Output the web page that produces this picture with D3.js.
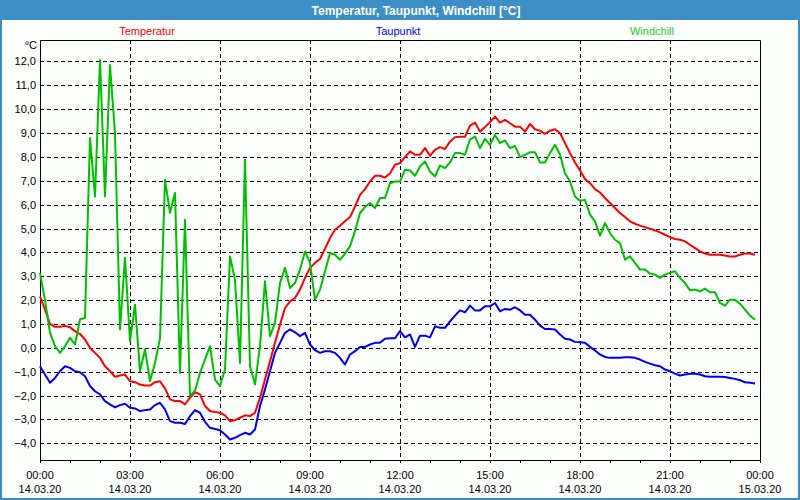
<!DOCTYPE html>
<html>
<head>
<meta charset="utf-8">
<script src="https://cdn.jsdelivr.net/npm/d3@7"></script>
<style>
  html, body { margin: 0; padding: 0; background: #fff; }
  svg { display: block; }
</style>
</head>
<body>
<div id="chart_container"></div>
<script>
// 10-minute readings, 14.03.20 00:00 .. 23:50
const start_time = new Date(2020, 2, 14, 0, 0);
const step_minutes = 10;

const temperatur = [
  2.16, 1.6, 1.0, 0.88, 0.88, 0.92, 0.86, 0.7, 0.58, 0.35,
  0.0, -0.21, -0.42, -0.77, -0.98, -1.21, -1.16, -1.12, -1.4, -1.44,
  -1.54, -1.58, -1.58, -1.44, -1.4, -1.7, -2.16, -2.23, -2.23, -2.37,
  -2.09, -1.86, -1.95, -2.44, -2.65, -2.69, -2.72, -2.83, -3.07, -3.03,
  -2.93, -2.83, -2.86, -2.72, -2.09, -1.33, -0.56, 0.21, 0.97, 1.67,
  1.95, 2.09, 2.44, 2.93, 3.35, 3.56, 3.72, 4.15, 4.6, 4.95,
  5.12, 5.3, 5.48, 5.92, 6.41, 6.65, 6.97, 7.21, 7.21, 7.14,
  7.32, 7.67, 7.74, 7.99, 8.23, 8.09, 8.09, 8.37, 8.05, 8.3,
  8.41, 8.33, 8.64, 8.83, 8.85, 8.85, 9.31, 9.44, 9.06, 9.25,
  9.46, 9.69, 9.44, 9.55, 9.41, 9.27, 9.27, 9.06, 9.38, 9.16,
  9.09, 8.97, 9.1, 9.16, 9.0, 8.58, 8.16, 7.77, 7.43, 7.07,
  6.9, 6.65, 6.51, 6.28, 6.07, 5.86, 5.65, 5.48, 5.3, 5.2,
  5.12, 5.06, 4.99, 4.92, 4.84, 4.74, 4.64, 4.56, 4.53, 4.46,
  4.32, 4.18, 4.04, 3.95, 3.9, 3.9, 3.9, 3.87, 3.83, 3.83,
  3.9, 3.95, 3.95, 3.9
];

const taupunkt = [
  -0.77, -1.12, -1.46, -1.26, -0.98, -0.77, -0.84, -0.98, -1.02, -1.19,
  -1.6, -1.82, -1.95, -2.23, -2.37, -2.49, -2.4, -2.34, -2.51, -2.54,
  -2.65, -2.61, -2.58, -2.4, -2.3, -2.58, -3.07, -3.14, -3.14, -3.19,
  -2.86, -2.61, -2.72, -3.1, -3.35, -3.4, -3.45, -3.63, -3.84, -3.77,
  -3.66, -3.56, -3.63, -3.42, -2.44, -1.74, -0.98, -0.21, 0.21, 0.63,
  0.77, 0.65, 0.49, 0.63, 0.14, -0.1, -0.21, -0.14, -0.14, -0.21,
  -0.42, -0.7, -0.28, -0.14, 0.04, 0.04, 0.14, 0.21, 0.21, 0.38,
  0.4, 0.4, 0.7, 0.44, 0.56, 0.04, 0.51, 0.51, 0.44, 0.9,
  0.84, 0.84, 1.11, 1.35, 1.57, 1.49, 1.77, 1.57, 1.57, 1.74,
  1.74, 1.88, 1.53, 1.63, 1.6, 1.7, 1.57, 1.39, 1.39, 1.18,
  0.93, 0.79, 0.79, 0.77, 0.56, 0.38, 0.35, 0.25, 0.23, 0.21,
  0.04, -0.11, -0.28, -0.38, -0.42, -0.42, -0.42, -0.39, -0.39, -0.42,
  -0.49, -0.59, -0.66, -0.73, -0.77, -0.91, -0.98, -1.08, -1.16, -1.12,
  -1.09, -1.09, -1.12, -1.19, -1.21, -1.21, -1.21, -1.22, -1.26, -1.3,
  -1.36, -1.44, -1.46, -1.49
];

const windchill = [
  3.14, 2.0, 0.64, 0.07, -0.21, 0.07, 0.42, 0.14, 1.2, 1.25,
  8.79, 6.34, 12.06, 6.34, 11.85, 9.0, 0.77, 3.77, 0.28, 1.81,
  -0.98, -0.07, -1.4, -0.63, 0.4, 7.04, 5.66, 6.49, -1.05, 5.37,
  -2.02, -1.8, -1.05, -0.49, 0.07, -1.33, -1.6, -0.91, 3.83, 2.86,
  -0.63, 7.88, -0.77, -1.54, 0.07, 2.79, 0.49, 1.05, 2.72, 3.35,
  2.51, 2.72, 3.28, 4.04, 3.56, 2.02, 2.44, 3.2, 3.97, 3.9,
  3.69, 3.95, 4.25, 4.9, 5.65, 5.9, 6.07, 5.86, 6.28, 6.28,
  6.9, 6.97, 6.97, 7.46, 7.43, 7.21, 7.6, 7.81, 7.39, 7.18,
  7.64, 7.53, 7.77, 8.16, 8.16, 8.09, 8.74, 8.85, 8.37, 8.76,
  8.51, 8.92, 8.58, 8.69, 8.37, 8.46, 7.99, 8.09, 8.2, 8.2,
  7.77, 7.77, 8.16, 8.51, 8.09, 7.32, 6.97, 6.34, 6.16, 6.2,
  5.58, 5.3, 4.7, 5.23, 4.81, 4.53, 4.39, 3.69, 3.83, 3.56,
  3.28, 3.28, 3.11, 3.07, 2.93, 3.07, 3.14, 3.21, 2.93, 2.72,
  2.41, 2.44, 2.37, 2.48, 2.33, 2.33, 1.88, 1.77, 2.02, 2.02,
  1.85, 1.6, 1.35, 1.18
];

const series_names = ['Temperatur', 'Taupunkt', 'Windchill'];
const series_colors = ['#ff0000', '#0000f0', '#00c000'];
const legend_colors = ['#ff0000', '#0000ff', '#22cc22'];
const y_ticks = [-4, -3, -2, -1, 0, 1, 2, 3, 4, 5, 6, 7, 8, 9, 10, 11, 12];
const title_text = 'Temperatur, Taupunkt, Windchill [°C]';
const unit_text = '°C';

const svg_width = 800;
const svg_height = 500;
const margin = {left: 40, right: 40, top: 40, bottom: 40};
const frame_color = '#3d8ec4';
const font = '"Liberation Sans", Arial, sans-serif';

const times = temperatur.map((_, i) => new Date(start_time.getTime() + i * step_minutes * 60000));

const svg = d3.select('#chart_container').append('svg')
  .attr('width', svg_width)
  .attr('height', svg_height);

// window background + blue frame
svg.append('rect')
  .attr('x', 0).attr('y', 0)
  .attr('width', svg_width).attr('height', svg_height)
  .attr('fill', '#fbfefb');
svg.append('rect')
  .attr('x', 1).attr('y', 1)
  .attr('width', svg_width - 2).attr('height', svg_height - 2)
  .attr('fill', 'none')
  .attr('stroke', frame_color)
  .attr('stroke-width', 2);
svg.append('rect')
  .attr('x', 0).attr('y', 0)
  .attr('width', svg_width).attr('height', 20)
  .attr('fill', frame_color);
svg.append('text')
  .attr('x', 416).attr('y', 15)
  .attr('text-anchor', 'middle')
  .style('font-family', font)
  .style('font-size', '12px')
  .style('font-weight', 'bold')
  .style('fill', '#fff')
  .text(title_text);

// legend
const legend_x = [147, 398, 652];
series_names.forEach((name, i) => {
  svg.append('text')
    .attr('x', legend_x[i]).attr('y', 35)
    .attr('text-anchor', 'middle')
    .style('font-family', font)
    .style('font-size', '11px')
    .style('fill', legend_colors[i])
    .text(name);
});

const plot_left = margin.left;
const plot_right = svg_width - margin.right;
const plot_top = margin.top;
const plot_bottom = svg_height - margin.bottom;

const x_scale = d3.scaleTime()
  .domain([start_time, new Date(2020, 2, 15, 0, 0)])
  .range([plot_left, plot_right]);
const y_scale = d3.scaleLinear()
  .domain([-4.7, 12.9])
  .range([plot_bottom, plot_top]);

const fmt_val = v => d3.format('.1f')(v).replace('.', ',');

// horizontal grid
svg.append('g')
  .selectAll('line')
  .data(y_ticks)
  .enter()
  .append('line')
  .attr('x1', plot_left).attr('x2', plot_right)
  .attr('y1', d => Math.round(y_scale(d)) + 0.5)
  .attr('y2', d => Math.round(y_scale(d)) + 0.5)
  .attr('stroke', '#000')
  .attr('stroke-width', 1)
  .attr('stroke-dasharray', '4,3');

// vertical grid every 3 hours
const grid_times = d3.timeHour.every(3).range(new Date(2020, 2, 14, 3), new Date(2020, 2, 15, 0));
svg.append('g')
  .selectAll('line')
  .data(grid_times)
  .enter()
  .append('line')
  .attr('x1', d => Math.round(x_scale(d)) + 0.5)
  .attr('x2', d => Math.round(x_scale(d)) + 0.5)
  .attr('y1', plot_top).attr('y2', plot_bottom)
  .attr('stroke', '#000')
  .attr('stroke-width', 1)
  .attr('stroke-dasharray', '4,3');

// y labels
svg.append('g')
  .selectAll('text')
  .data(y_ticks)
  .enter()
  .append('text')
  .attr('x', 36)
  .attr('y', d => y_scale(d) + 4)
  .attr('text-anchor', 'end')
  .style('font-family', font)
  .style('font-size', '11px')
  .style('fill', '#000')
  .text(fmt_val);

svg.append('text')
  .attr('x', 37).attr('y', 49)
  .attr('text-anchor', 'end')
  .style('font-family', font)
  .style('font-size', '11px')
  .style('fill', '#000')
  .text(unit_text);

// x axis: hourly ticks, labels every 3h
const x_axis = d3.axisBottom(x_scale)
  .ticks(d3.timeHour.every(1))
  .tickSize(3)
  .tickFormat('');
svg.append('g')
  .attr('class', 'x axis')
  .attr('transform', `translate(0,${plot_bottom})`)
  .call(x_axis)
  .call(g => g.select('.domain').remove())
  .selectAll('line')
  .attr('stroke', '#000');

const label_times = d3.timeHour.every(3).range(start_time, new Date(2020, 2, 15, 0, 1));
const x_labels = svg.append('g')
  .selectAll('g')
  .data(label_times)
  .enter()
  .append('g')
  .attr('transform', d => `translate(${x_scale(d)},0)`);
x_labels.append('text')
  .attr('y', 479)
  .attr('text-anchor', 'middle')
  .style('font-family', font)
  .style('font-size', '11px')
  .style('fill', '#000')
  .text(d3.timeFormat('%H:%M'));
x_labels.append('text')
  .attr('y', 493)
  .attr('text-anchor', 'middle')
  .style('font-family', font)
  .style('font-size', '11px')
  .style('fill', '#000')
  .text(d3.timeFormat('%d.%m.%y'));

// plot frame
svg.append('path')
  .attr('d', `M${plot_left + 0.5},${plot_top + 0.5}H${plot_right + 0.5}V${plot_bottom + 0.5}H${plot_left + 0.5}Z`)
  .attr('fill', 'none')
  .attr('stroke', '#000')
  .attr('stroke-width', 1);

// series lines
const line = d3.line()
  .x((d, i) => x_scale(times[i]))
  .y(d => y_scale(d));

[temperatur, taupunkt, windchill].forEach((values, i) => {
  svg.append('path')
    .datum(values)
    .attr('d', line)
    .attr('fill', 'none')
    .attr('stroke', series_colors[i])
    .attr('stroke-width', 2)
    .attr('stroke-linejoin', 'round');
});
</script>
</body>
</html>
